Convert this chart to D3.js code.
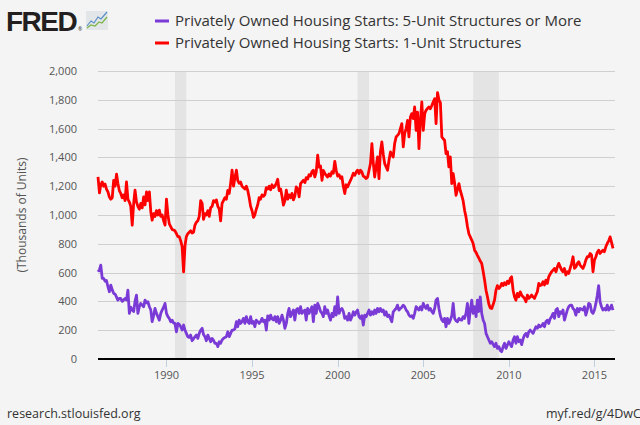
<!DOCTYPE html>
<html><head><meta charset="utf-8">
<script src="https://cdn.jsdelivr.net/npm/d3@7"></script>
<style>
html,body{margin:0;padding:0;background:#f4f4f4;}
svg{display:block;}
</style></head><body>
<svg id="c" width="640" height="425"></svg>
<script>
// ---- data (thousands of units, SAAR, monthly from Jan 1986) ----
const firstMonth = "1986-01-01";
const lastMonth = "2016-02-01";
const seriesNames = [
  "Privately Owned Housing Starts: 5-Unit Structures or More",
  "Privately Owned Housing Starts: 1-Unit Structures"
];
const seriesColors = ["#7a3ad6", "#ff0000"];
const units5plus = [
 606,620,652,560,560,540,545,502,467,513,480,456,   // 1986
 450,430,409,420,420,400,410,420,410,478,317,360,   // 1987
 340,330,400,444,317,363,386,374,363,409,390,397,   // 1988
 363,340,259,300,351,317,294,270,317,340,360,386,   // 1989
 317,294,282,259,270,250,247,189,247,240,224,201,   // 1990
 236,200,178,155,150,166,127,140,155,166,143,178,   // 1991
 201,213,170,155,127,166,143,120,143,130,109,109,   // 1992
 86,120,109,132,143,150,155,189,155,178,201,201,    // 1993
 210,259,224,270,247,260,282,247,294,259,247,294,   // 1994
 247,260,224,270,259,247,259,282,259,270,201,300,   // 1995
 270,305,280,270,294,259,294,247,270,305,270,213,   // 1996
 247,317,351,294,320,340,270,340,351,317,363,317,   // 1997
 330,340,270,351,317,340,363,259,374,317,386,363,   // 1998
 330,317,294,363,317,340,300,270,317,294,363,305,   // 1999
 432,317,340,351,330,282,294,270,317,270,294,328,   // 2000
 305,328,340,294,282,300,236,305,294,317,340,305,   // 2001
 328,310,340,317,351,328,351,330,340,305,328,294,   // 2002
 305,280,259,328,340,351,374,340,351,360,374,363,   // 2003
 340,328,305,294,300,282,317,363,351,340,363,340,   // 2004
 386,363,351,374,340,351,330,317,351,409,421,351,   // 2005
 300,271,260,282,224,282,247,270,300,386,282,265,   // 2006
 259,282,271,270,294,282,317,386,247,340,409,317,   // 2007
 363,294,409,330,432,317,271,247,178,155,132,109,   // 2008
 120,100,86,109,74,86,60,51,86,109,74,97,           // 2009
 120,100,86,132,155,109,155,120,132,100,140,166,    // 2010
 178,155,189,201,190,178,201,224,213,236,224,230,   // 2011
 247,224,259,270,247,280,294,317,282,340,351,294,   // 2012
 328,317,340,270,305,340,363,374,374,351,340,305,   // 2013
 351,328,351,345,340,363,305,340,386,380,328,317,   // 2014
 340,386,440,510,397,363,340,351,340,374,340,351,   // 2015
 374,340                                            // 2016
];
const units1 = [
 1264,1153,1210,1230,1200,1215,1180,1160,1125,1110,1120,1240, // 1986
 1200,1283,1220,1170,1150,1120,1140,1100,1230,1110,1090,1060, // 1987
 929,1080,1172,1090,1060,1040,1080,1050,1125,1070,1160,1100,  // 1988
 1160,1020,964,1010,990,1030,1000,1034,990,1000,960,930,      // 1989
 1110,1000,940,920,900,895,890,870,850,850,820,780,           // 1990
 605,790,850,870,880,890,875,880,930,950,960,990,             // 1991
 1100,1080,970,1010,1000,1030,990,1050,1060,1100,1090,1105,   // 1992
 1060,1040,960,1080,1100,1120,1110,1170,1150,1220,1311,1200,  // 1993
 1260,1311,1240,1220,1230,1200,1190,1180,1200,1170,1120,1060, // 1994
 1030,983,1000,1040,1070,1120,1110,1140,1130,1140,1190,1180,  // 1995
 1200,1175,1210,1190,1200,1220,1248,1170,1180,1130,1068,1100, // 1996
 1172,1110,1140,1120,1150,1105,1130,1195,1180,1126,1218,1230, // 1997
 1241,1225,1260,1250,1280,1270,1300,1311,1264,1300,1415,1333, // 1998
 1340,1241,1310,1290,1275,1264,1285,1270,1300,1290,1373,1311, // 1999
 1270,1280,1255,1265,1200,1149,1210,1195,1220,1240,1264,1290, // 2000
 1276,1299,1311,1288,1311,1299,1270,1264,1253,1264,1311,1357, // 2001
 1496,1357,1264,1334,1403,1253,1438,1507,1420,1357,1334,1311, // 2002
 1380,1438,1420,1403,1496,1542,1553,1565,1600,1634,1473,1565, // 2003
 1600,1657,1542,1680,1704,1669,1750,1588,1715,1461,1657,1785, // 2004
 1588,1704,1727,1740,1750,1738,1760,1785,1808,1634,1850,1800, // 2005
 1780,1542,1530,1519,1426,1440,1334,1403,1218,1288,1220,1137, // 2006
 1180,1218,1170,1137,1100,1033,987,920,870,848,826,802,       // 2007
 756,740,720,700,680,664,610,548,478,432,380,355,             // 2008
 351,380,409,478,510,490,500,525,510,530,515,540,             // 2009
 525,560,571,478,432,409,455,432,466,444,432,421,             // 2010
 398,444,421,430,444,432,421,445,467,525,510,514,             // 2011
 537,514,548,525,571,590,606,617,629,606,640,664,             // 2012
 640,617,606,629,583,606,594,630,664,710,629,640,             // 2013
 664,675,652,640,629,652,687,710,710,733,721,606,             // 2014
 687,710,740,756,733,745,756,745,779,802,820,848,             // 2015
 810,768                                                      // 2016
];
const yTicks = [0,200,400,600,800,1000,1200,1400,1600,1800,2000];
const xTickYears = [1990,1995,2000,2005,2010,2015];
const recessions = [
  ["1990-07-01","1991-03-01"],
  ["2001-03-01","2001-11-01"],
  ["2007-12-01","2009-06-01"]
];
const yTitle = "(Thousands of Units)";
const footerLeft = "research.stlouisfed.org";
const footerRight = "myf.red/g/4DwC";

// ---- chart ----
const parse = d3.timeParse("%Y-%m-%d");
const months = d3.timeMonth.range(parse(firstMonth), d3.timeMonth.offset(parse(lastMonth), 1));
const svg = d3.select("#c");
const W = 640, H = 425;
const pL = 98, pR = 613, pT = 71, pB = 359;
const x = d3.scaleTime().domain([parse(firstMonth), parse(lastMonth)]).range([pL, pR]);
const y = d3.scaleLinear().domain([0, 2000]).range([pB, pT]);
const font = "'Open Sans', 'Noto Sans', sans-serif";

svg.append("rect").attr("width", W).attr("height", H).attr("fill", "#f4f4f4");

// recessions
svg.append("g").selectAll("rect").data(recessions).join("rect")
  .attr("x", d => x(parse(d[0])))
  .attr("width", d => x(parse(d[1])) - x(parse(d[0])))
  .attr("y", pT).attr("height", pB - pT)
  .attr("fill", "#e4e4e4");

// gridlines
svg.append("g").selectAll("line").data(yTicks.filter(v => v > 0)).join("line")
  .attr("x1", pL).attr("x2", 615)
  .attr("y1", d => Math.round(y(d)) + 0.5).attr("y2", d => Math.round(y(d)) + 0.5)
  .attr("stroke", "#cfcfcf").attr("stroke-width", 1);

// y labels
svg.append("g").selectAll("text").data(yTicks).join("text")
  .attr("x", 77).attr("y", d => y(d) + 4)
  .attr("text-anchor", "end")
  .attr("font-family", font).attr("font-size", 11).attr("fill", "#555")
  .text(d => d3.format(",")(d));

// y title
svg.append("text")
  .attr("transform", `translate(26,${(pT + pB) / 2}) rotate(-90)`)
  .attr("text-anchor", "middle")
  .attr("font-family", font).attr("font-size", 12).attr("fill", "#555")
  .text(yTitle);

// lines
const line = d3.line().x((d, i) => x(months[i])).y(d => y(d));
[units5plus, units1].forEach((s, k) => {
  svg.append("path").datum(s).attr("d", line)
    .attr("fill", "none").attr("stroke", seriesColors[k])
    .attr("stroke-width", 2.8).attr("stroke-linejoin", "round");
});

// x axis
svg.append("line").attr("x1", pL).attr("x2", 615)
  .attr("y1", pB).attr("y2", pB)
  .attr("stroke", "#000").attr("stroke-width", 2);
const xt = xTickYears.map(yr => new Date(yr, 0, 1));
svg.append("g").selectAll("line").data(xt).join("line")
  .attr("x1", d => Math.round(x(d)) + 0.5).attr("x2", d => Math.round(x(d)) + 0.5)
  .attr("y1", pB + 1).attr("y2", pB + 8)
  .attr("stroke", "#c0d0e0").attr("stroke-width", 1);
svg.append("g").selectAll("text").data(xt).join("text")
  .attr("x", d => x(d)).attr("y", pB + 20)
  .attr("text-anchor", "middle")
  .attr("font-family", font).attr("font-size", 11).attr("fill", "#555")
  .text(d => d3.timeFormat("%Y")(d));

// legend
seriesNames.forEach((name, k) => {
  const ly = 21 + k * 22;
  svg.append("line").attr("x1", 155).attr("x2", 169).attr("y1", ly).attr("y2", ly)
    .attr("stroke", seriesColors[k]).attr("stroke-width", 3);
  svg.append("text").attr("x", 175).attr("y", ly + 5)
    .attr("font-family", font).attr("font-size", 15).attr("fill", "#333")
    .text(name);
});

// FRED logo
svg.append("text").attr("x", 6).attr("y", 31)
  .attr("font-family", "'Liberation Sans', Arial, sans-serif").attr("font-weight", "bold")
  .attr("font-size", 28).attr("letter-spacing", -1.5).attr("fill", "#231f20")
  .text("FRED");
svg.append("text").attr("x", 78).attr("y", 31)
  .attr("font-family", font).attr("font-size", 5).attr("fill", "#231f20").text("®");
const icon = svg.append("g").attr("transform", "translate(86,11)");
icon.append("rect").attr("width", 22).attr("height", 19).attr("rx", 1).attr("fill", "#e3e6e8");
icon.append("polyline").attr("points", "1,15 5,10 8,12 12,6 15,8 21,1")
  .attr("fill", "none").attr("stroke", "#5b8fc7").attr("stroke-width", 1.2);
icon.append("polyline").attr("points", "1,17 5,14 9,15 13,11 16,12 21,6")
  .attr("fill", "none").attr("stroke", "#7ab648").attr("stroke-width", 1.2);

// footer
svg.append("text").attr("x", 7).attr("y", 418)
  .attr("font-family", font).attr("font-size", 12.5).attr("fill", "#333").text(footerLeft);
svg.append("text").attr("x", 546).attr("y", 418)
  .attr("font-family", font).attr("font-size", 12.5).attr("fill", "#333").text(footerRight);
</script>
</body></html>
